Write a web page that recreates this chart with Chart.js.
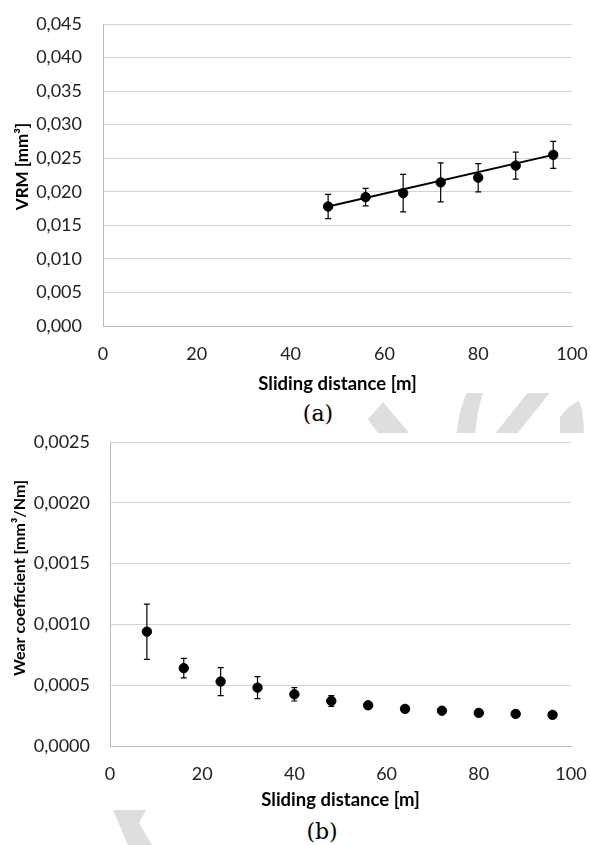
<!DOCTYPE html>
<html>
<head>
<meta charset="utf-8">
<script src="https://cdn.jsdelivr.net/npm/chart.js@4.4.1/dist/chart.umd.min.js"></script>
<style>
  body { margin: 0; width: 590px; height: 845px; position: relative; background: #fff; overflow: hidden; }
  svg.wm { position: absolute; left: 0; top: 0; }
  canvas { position: absolute; left: 0; }
  #chartA { top: 0; }
  #chartB { top: 430px; }
  .cap { position: absolute; font-family: "DejaVu Serif"; font-size: 22px; color: #000; transform: translate(-50%, -50%); }
</style>
</head>
<body>
<!-- faint watermark showing between and below the charts -->
<svg class="wm" width="590" height="845">
  <defs>
    <clipPath id="gap"><rect x="0" y="393" width="590" height="40"/></clipPath>
  </defs>
  <g fill="#dedede" clip-path="url(#gap)">
    <polygon points="368,419 383,402 415,440 383,440"/>
    <path d="M456,440 Q458,410 468,390 L484,390 Q476,412 475,440 Z"/>
    <polygon points="490,440 512,440 552,390 530,390"/>
    <path d="M560,440 L560,417 Q568,406 579,401 Q584,410 584,440 Z"/>
  </g>
  <polygon fill="#dedede" points="113,810 146,810 139,823 152,845 128,845"/>
</svg>
<canvas id="chartA" width="590" height="400"></canvas>
<canvas id="chartB" width="590" height="388"></canvas>
<div class="cap" style="left:318px;top:413px">(a)</div>
<div class="cap" style="left:322px;top:831px">(b)</div>

<script>
// (a) volume removed vs sliding distance
const distA = [48, 56, 64, 72, 80, 88, 96];
const vrm = [0.0178, 0.0192, 0.0198, 0.0214, 0.0221, 0.0239, 0.0255];
const vrmErr = [0.0018, 0.0013, 0.0028, 0.0029, 0.0021, 0.0020, 0.0020];
const trendX = [48, 96];
const trendY = [0.0178, 0.0255];
const yTicksA = [0, 0.045, 0.005]; // min, max, step

// (b) wear coefficient vs sliding distance
const distB = [8, 16, 24, 32, 40, 48, 56, 64, 72, 80, 88, 96];
const wear = [0.00094, 0.00064, 0.00053, 0.00048, 0.000425, 0.00037, 0.000335, 0.000305, 0.00029, 0.000272, 0.000264, 0.000256];
const wearErr = [0.000227, 0.00008, 0.000115, 0.00009, 0.000055, 0.000045, 0.00003, 0.00002, 0.00002, 0.00002, 0.00002, 0.00002];
const yTicksB = [0, 0.0025, 0.0005];

const xTicks = [0, 100, 20];

const tickFont = { family: 'Lato', size: 18 };
const xTitleFont = { family: 'Lato', size: 18.5, weight: 'bold', lineHeight: 1 };

// vertical error bars with small caps
const errorBars = {
  id: 'errorBars',
  afterDatasetsDraw(chart, args, opts) {
    const { ctx, scales: { x, y } } = chart;
    ctx.save();
    ctx.strokeStyle = '#000';
    ctx.lineWidth = 1.2;
    opts.xs.forEach((xv, i) => {
      const px = x.getPixelForValue(xv);
      const top = y.getPixelForValue(opts.ys[i] + opts.err[i]);
      const bot = y.getPixelForValue(opts.ys[i] - opts.err[i]);
      ctx.beginPath();
      ctx.moveTo(px, top); ctx.lineTo(px, bot);
      ctx.moveTo(px - 3, top); ctx.lineTo(px + 3, top);
      ctx.moveTo(px - 3, bot); ctx.lineTo(px + 3, bot);
      ctx.stroke();
    });
    ctx.restore();
  }
};

function makeChart(id, cfg) {
  const datasets = [{
    data: cfg.xs.map((v, i) => ({ x: v, y: cfg.ys[i] })),
    pointRadius: 4.7,
    pointBackgroundColor: '#000',
    pointBorderColor: '#000',
    showLine: false
  }];
  if (cfg.trend) {
    datasets.push({
      data: cfg.trend[0].map((v, i) => ({ x: v, y: cfg.trend[1][i] })),
      showLine: true,
      borderColor: '#000',
      borderWidth: 2,
      pointRadius: 0
    });
  }
  return new Chart(document.getElementById(id), {
    type: 'scatter',
    data: { datasets },
    plugins: [errorBars],
    options: {
      responsive: false,
      animation: false,
      layout: { padding: cfg.pad },
      plugins: {
        legend: { display: false },
        tooltip: { enabled: false },
        errorBars: { xs: cfg.xs, ys: cfg.ys, err: cfg.err }
      },
      scales: {
        x: {
          type: 'linear',
          min: xTicks[0], max: xTicks[1],
          ticks: { stepSize: xTicks[2], padding: 17, color: '#222', font: tickFont },
          grid: { color: 'transparent', drawTicks: false },
          border: { color: '#bdbdbd' },
          title: { display: true, text: 'Sliding distance [m]', color: '#000', font: xTitleFont, padding: { top: 0, bottom: cfg.xtb } },
          afterFit(s) {
            s.height = cfg.xh;
            s.paddingLeft = 0;
            s.paddingRight = 0;
          }
        },
        y: {
          min: cfg.yt[0], max: cfg.yt[1],
          ticks: {
            stepSize: cfg.yt[2], padding: cfg.ypad, color: '#222', font: tickFont,
            callback: v => v.toFixed(cfg.dec).replace('.', ',')
          },
          grid: { color: '#d4d4d4', drawTicks: false },
          border: { color: '#bdbdbd' },
          // leading en spaces nudge the rotated title upward like the original
          title: { display: true, text: cfg.ytitle, color: '#000', font: { family: 'Lato', size: cfg.ytfs, weight: 'bold', lineHeight: 1.2 }, padding: { top: cfg.ttop, bottom: 0 } },
          afterFit(s) {
            s.width = cfg.yw;
            s.paddingTop = 0;
            s.paddingBottom = 0;
          }
        }
      }
    }
  });
}

makeChart('chartA', {
  xs: distA, ys: vrm, err: vrmErr, trend: [trendX, trendY],
  yt: yTicksA, dec: 3, ytitle: '\u2002\u2002VRM [mm³]', ytfs: 17,
  pad: { top: 24, right: 18, left: 0, bottom: 0 },
  xh: 74, xtb: 6.5, yw: 103, ypad: 21, ttop: 12
});

makeChart('chartB', {
  xs: distB, ys: wear, err: wearErr,
  yt: yTicksB, dec: 4, ytitle: '\u2002\u2002\u2002\u2002Wear coefficient [mm³/Nm]', ytfs: 16,
  pad: { top: 12, right: 19, left: 0, bottom: 0 },
  xh: 72, xtb: 8.5, yw: 110, ypad: 20, ttop: 10
});
</script>
</body>
</html>
